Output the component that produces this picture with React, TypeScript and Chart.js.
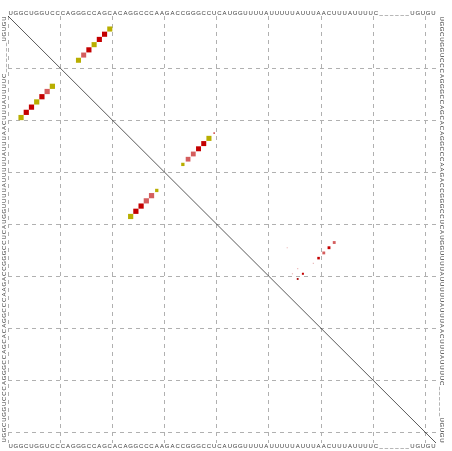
import React, { useEffect, useRef } from "react";
import { Chart, registerables } from "chart.js";

Chart.register(...registerables);

const sequence = "UGGCUGGUCCCAGGGCCAGCACAGGCCCAAGACCGGGCCUCAUGGUUUUAUUUUUAUUUAACUUUAUUUUC______UGUGU".split("");
const seqLength = sequence.length; // 82

const gridX = [0, 10, 20, 30, 40, 50, 60, 70, 80];
const gridY = [10, 20, 30, 40, 50, 60, 70, 80];

// upper triangle: base pair probabilities (i < j)
const upperI = [3, 4, 5, 6, 7, 8, 9, 23, 24, 25, 26, 27, 28, 29, 44, 45, 46, 47, 48, 49, 50, 50, 51, 45];
const upperJ = [20, 19, 18, 17, 16, 15, 14, 40, 39, 38, 37, 36, 35, 34, 63, 62, 61, 60, 59, 56, 57, 55, 56, 54];
const upperP = [0.95, 0.97, 0.97, 0.95, 0.97, 0.93, 0.93, 0.1, 0.95, 0.92, 0.9, 0.85, 0.82, 0.4, 0.3, 0.3, 0.3, 0.24, 0.05, 0.05, 0.15, 0.05, 0.12, 0.05];
const upperC = ["Y", "R", "R", "Y", "R", "P", "Y", "P", "Y", "R", "R", "P", "P", "Y", "P", "R", "P", "R", "F", "F", "R", "F", "D", "F"];

// lower triangle: structure pairs
const lowerI = [3, 4, 5, 6, 7, 8, 9, 24, 25, 26, 27, 28, 29];
const lowerJ = [20, 19, 18, 17, 16, 15, 14, 39, 38, 37, 36, 35, 34];
const lowerP = [1, 1, 1, 1, 1, 1, 1, 1, 1, 1, 1, 1, 0.4];
const lowerC = ["Y", "R", "R", "Y", "R", "P", "Y", "Y", "R", "R", "P", "P", "Y"];

const colorMap: Record<string, string> = {
  Y: "#b8ae00",
  R: "#c40000",
  P: "#d45e5e",
  D: "#a80000",
  F: "rgba(220,140,140,0.6)",
};

const sequencePlugin = {
  id: "sequenceLabels",
  afterDraw(chart: any) {
    const { ctx, chartArea } = chart;
    const xs = chart.scales.x;
    const ys = chart.scales.y;
    ctx.save();
    ctx.fillStyle = "#3a3a3a";
    ctx.font = "6px 'Liberation Sans', sans-serif";
    ctx.textAlign = "center";
    ctx.textBaseline = "middle";
    for (let k = 1; k <= seqLength; k++) {
      const ch = sequence[k - 1];
      const px = xs.getPixelForValue(k - 0.5);
      ctx.fillText(ch, px, chartArea.top - 3);
      ctx.fillText(ch, px, chartArea.bottom + 3);
      // left: reads bottom to top
      const pyL = ys.getPixelForValue(seqLength - k + 0.5);
      ctx.save();
      ctx.translate(chartArea.left - 3.5, pyL);
      ctx.rotate(-Math.PI / 2);
      ctx.fillText(ch, 0, 0);
      ctx.restore();
      // right: reads top to bottom
      const pyR = ys.getPixelForValue(k - 0.5);
      ctx.save();
      ctx.translate(chartArea.right + 5.5, pyR);
      ctx.rotate(Math.PI / 2);
      ctx.fillText(ch, 0, 0);
      ctx.restore();
    }
    ctx.restore();
  },
};

function radiusFor(ctx: any) {
  const xs = ctx.chart.scales.x;
  if (!xs || !ctx.raw) return 0;
  const cell = Math.abs(xs.getPixelForValue(1) - xs.getPixelForValue(0));
  return (Math.sqrt(ctx.raw.p) * cell) / (2 * Math.SQRT1_2);
}

export default function App() {
  const canvasRef = useRef<HTMLCanvasElement | null>(null);

  useEffect(() => {
    if (!canvasRef.current) return;
    const upperData = upperI.map((i, k) => ({ x: upperJ[k] - 0.5, y: i - 0.5, p: upperP[k], c: upperC[k] }));
    const lowerData = lowerI.map((i, k) => ({ x: i - 0.5, y: lowerJ[k] - 0.5, p: lowerP[k], c: lowerC[k] }));

    const pointOpts = {
      type: "scatter" as const,
      pointStyle: "rect",
      pointRadius: radiusFor,
      pointBackgroundColor: (ctx: any) => (ctx.raw ? colorMap[ctx.raw.c] : "#000"),
      pointBorderWidth: 0,
      pointHoverRadius: radiusFor,
    };

    const chart = new Chart(canvasRef.current, {
      type: "scatter",
      data: {
        datasets: [
          {
            type: "line",
            data: [
              { x: 0, y: 0 },
              { x: seqLength, y: seqLength },
            ],
            borderColor: "#111",
            borderWidth: 0.7,
            pointRadius: 0,
            fill: false,
          } as any,
          { ...pointOpts, data: upperData } as any,
          { ...pointOpts, data: lowerData } as any,
        ],
      },
      options: {
        responsive: false,
        animation: false,
        events: [],
        layout: { padding: { left: 8, top: 16, right: 16, bottom: 8 } },
        plugins: { legend: { display: false }, tooltip: { enabled: false } },
        scales: {
          x: {
            type: "linear",
            position: "top",
            min: 0,
            max: seqLength,
            afterBuildTicks: (s: any) => {
              s.ticks = gridX.map((v) => ({ value: v }));
            },
            ticks: { display: false },
            grid: { color: "#b0b0b0", lineWidth: 1, drawTicks: false },
            border: { display: false, dash: [4, 4] },
          },
          y: {
            type: "linear",
            reverse: true,
            min: 0,
            max: seqLength,
            afterBuildTicks: (s: any) => {
              s.ticks = gridY.map((v) => ({ value: v }));
            },
            ticks: { display: false },
            grid: { color: "#b0b0b0", lineWidth: 1, drawTicks: false },
            border: { display: false, dash: [4, 4] },
          },
        },
      },
      plugins: [sequencePlugin],
    });
    return () => chart.destroy();
  }, []);

  return (
    <div style={{ position: "absolute", left: 0, top: 0, width: 452, height: 451, background: "#fff" }}>
      <canvas ref={canvasRef} width={452} height={451} style={{ display: "block" }} />
    </div>
  );
}
